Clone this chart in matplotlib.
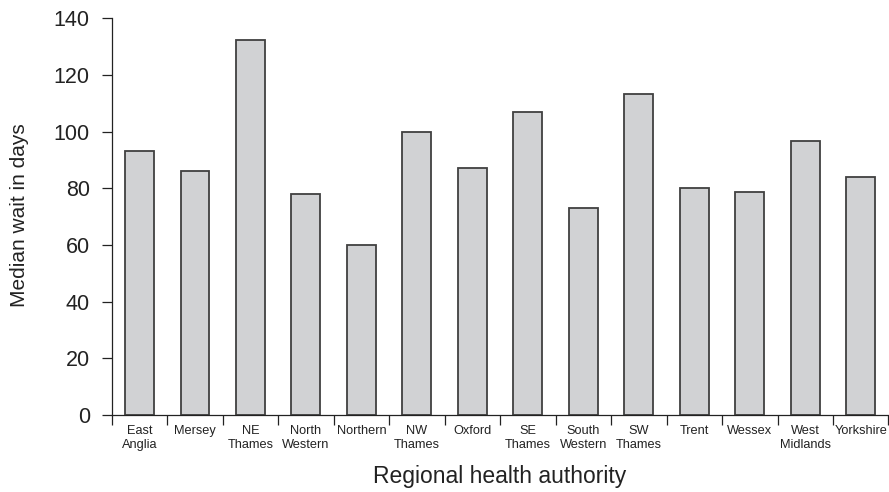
import matplotlib
matplotlib.use("Agg")
import matplotlib.pyplot as plt
import numpy as np

# Median wait (days) by regional health authority
authorities = ["East\nAnglia", "Mersey", "NE\nThames", "North\nWestern", "Northern",
               "NW\nThames", "Oxford", "SE\nThames", "South\nWestern", "SW\nThames",
               "Trent", "Wessex", "West\nMidlands", "Yorkshire"]
median_wait = [93, 86, 132.5, 78, 60, 100, 87.3, 107.1, 73.2, 113.2, 80.2, 78.8, 96.7, 83.9]
y_ticks = [0, 20, 40, 60, 80, 100, 120, 140]

plt.rcParams["font.family"] = ["Liberation Sans", "DejaVu Sans"]

fig = plt.figure(figsize=(8.89, 4.92), dpi=100)
W, H = 889, 492
left, right, top, bottom = 111.7, 888.5, 18.3, 415.0
ax = fig.add_axes([left / W, (H - bottom) / H, (right - left) / W, (bottom - top) / H])

n = len(authorities)
centers = np.arange(n) + 0.5
ax.bar(centers, median_wait, width=0.52, color="#d1d2d4", edgecolor="#404040",
       linewidth=1.3, zorder=2)

ax.set_xlim(0, n)
ax.set_ylim(0, 140)

for side in ("top", "right"):
    ax.spines[side].set_visible(False)
for side in ("left", "bottom"):
    ax.spines[side].set_color("#222222")
    ax.spines[side].set_linewidth(0.9)

ax.set_yticks(y_ticks)
ax.tick_params(axis="y", direction="out", length=7.2, width=0.9, color="#222222",
               labelsize=15.5, pad=8.6, labelcolor="#222222")

# boundary ticks on the x axis, labels centred under each bar
ax.set_xticks(np.arange(n + 1))
ax.set_xticklabels([])
ax.tick_params(axis="x", which="major", direction="out", length=7.2, width=0.9,
               color="#222222")
ax.set_xticks(centers, minor=True)
ax.set_xticklabels(authorities, minor=True, fontsize=9.2, color="#222222",
                   linespacing=1.2)
ax.tick_params(axis="x", which="minor", length=0, pad=7)

fig.text(500 / W, (H - 483) / H, "Regional health authority", ha="center",
         va="baseline", fontsize=16.5, color="#222222")
fig.text(20 / W, (H - 215) / H, "Median wait in days", ha="center", va="center",
         rotation=90, fontsize=15, color="#222222")

fig.savefig("out.png", dpi=100)
